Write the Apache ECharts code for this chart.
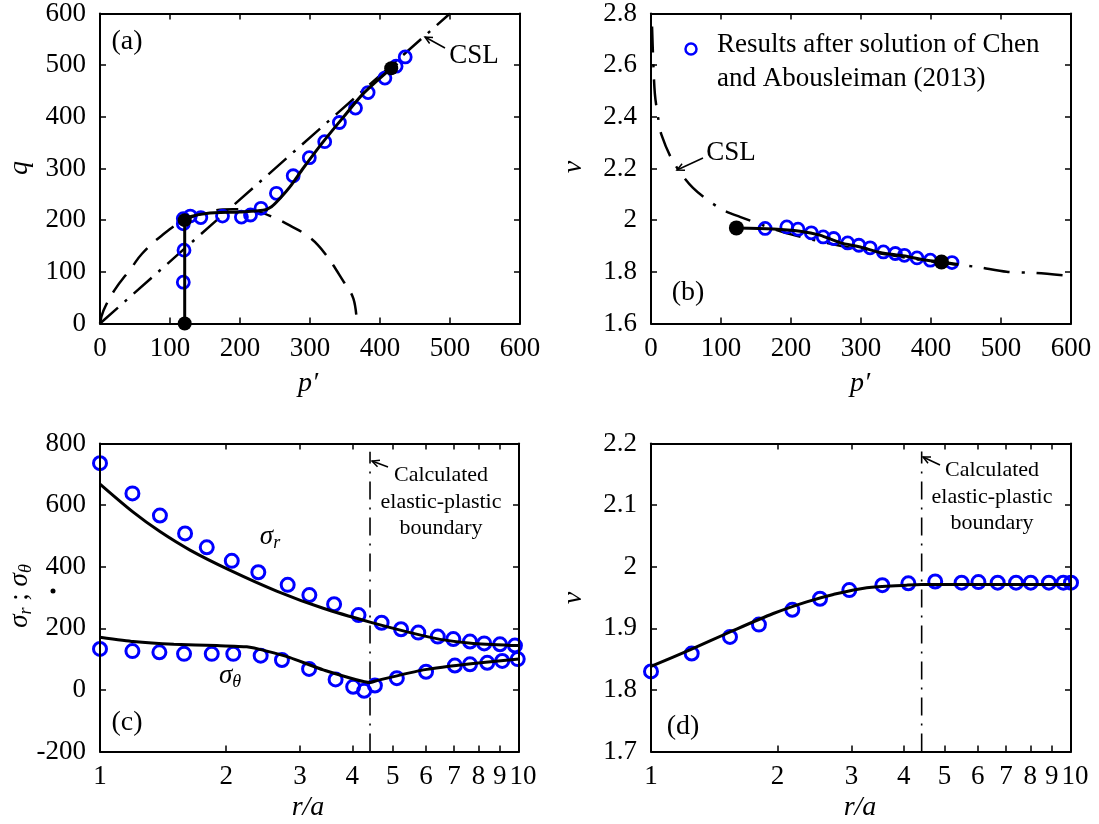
<!DOCTYPE html>
<html><head><meta charset="utf-8">
<script src="https://cdn.jsdelivr.net/npm/echarts@6/dist/echarts.min.js"></script>
<style>html,body{margin:0;padding:0;background:#fff}#c{width:1099px;height:824px}</style>
</head><body><div id="c"></div>
<script>
// ---------- Panel (a): q vs p'
const aCircP = [119,120,119,119,129,144,175,202,215,230,252,276,299,321,342,365,383,407,423,436];
const aCircQ = [80,142,193,203,208,205,208,206,210,223,252,286,321,352,389,417,447,475,498,516];
const aStemP = [121,121];
const aStemQ = [0,200];
const aModelP = [121,130,152,200,233,245,257,271,290,319,348,376,416,425];
const aModelQ = [200,207,213,216,219,226,242,264,300,352,400,445,494,503];
const aDotP = [121,121,416];
const aDotQ = [0,200,494];
const aCslP = [0,500];
const aCslQ = [0,600];
const aYieldP = [0,5,21,45,60,88,121,162,190,224,252,271,300,321,348,362,367];
const aYieldQ = [0,25,65,108,135,170,200,218,221,217,203,190,166,136,81,48,0];

// ---------- Panel (b): v vs p'
const bCircP = [163,194,210,229,246,261,281,297,313,332,349,362,380,399,430];
const bCircV = [1.968,1.974,1.965,1.951,1.935,1.929,1.912,1.903,1.893,1.877,1.871,1.864,1.854,1.845,1.836];
const bModelP = [122,175,213,241,270,299,327,360,394,415,439];
const bModelV = [1.970,1.966,1.957,1.942,1.913,1.896,1.875,1.862,1.845,1.838,1.828];
const bDotP = [122,415];
const bDotV = [1.970,1.838];
const bCslP = [1.5,3,5.5,10,15,32,60,99,127,200,300,400,465,508,549,600];
const bCslV = [2.75,2.63,2.49,2.40,2.33,2.225,2.125,2.045,2.013,1.945,1.885,1.84,1.819,1.80,1.796,1.784];

// ---------- Panel (c): stresses vs r/a
const cSrR = [1,1.195,1.39,1.596,1.798,2.063,2.387,2.805,3.16,3.62,4.14,4.70,5.23,5.75,6.40,6.97,7.64,8.26,9.01,9.78];
const cSr  = [736,638,566,508,463,419,382,341,308,278,243,218,197,186,173,165,157,151,148,144];
const cStR = [1,1.195,1.386,1.587,1.848,2.08,2.418,2.718,3.155,3.65,4.02,4.27,4.53,5.11,6.0,7.03,7.64,8.4,9.12,9.93];
const cSt  = [133,126,122,117,117,117,111,97,68,34,10,-3,14,38,59,79,83,88,94,100];
const cModelSrR = [1,1.2,1.39,1.64,2.04,2.64,3.41,4.41,5.5,6.48,7.78,10];
const cModelSr  = [668,577,514,454,389,321,265,220,186,164,151,144];
const cModelStR = [1,1.2,1.5,1.9,2.24,2.5,2.84,3.41,4.41,4.6,5.91,7.78,10];
const cModelSt  = [171,157,148,144,140,126,105,65,24,31,65,86,100];
const cBoundS = [-200,773];

// ---------- Panel (d): v vs r/a
const dCircR = [1,1.25,1.542,1.807,2.17,2.526,2.966,3.555,4.10,4.75,5.49,6.02,6.69,7.40,8.02,8.86,9.59,10];
const dCircV = [1.830,1.859,1.886,1.906,1.930,1.948,1.962,1.970,1.973,1.976,1.974,1.975,1.974,1.974,1.974,1.974,1.974,1.974];
const dModelR = [1,1.238,1.542,1.955,2.348,2.718,3.263,4.06,4.41,10];
const dModelV = [1.838,1.865,1.894,1.924,1.943,1.955,1.966,1.970,1.971,1.971];
const dBoundV = [1.7,2.187];

const boundaryR = 4.41;
const logTicks = [1,2,3,4,5,6,7,8,9,10];
const logLabelsMain = [1,2,3,4,5,6,7,8,9];
const logLabelsEnd = [10];

// ---------- build
const FONT = '"Liberation Serif", "Times New Roman", serif';
const FS = 27;
const BLUE = '#0000ff';
const pairs = (xs, ys) => xs.map((x, i) => [x, ys[i]]);

const grids = [
  {left:100, top:13.5, width:420, height:310},
  {left:651, top:13.5, width:420, height:310},
  {left:100, top:443.5, width:419, height:308},
  {left:651, top:443.5, width:420, height:308}
];

const fmtNum = v => String(+(+v).toFixed(2));

function mkAxis(gi, pos, cfg, showLabel) {
  const ax = Object.assign({
    gridIndex: gi, position: pos,
    axisLine: {show: true, onZero: false, lineStyle: {color: '#000', width: 2}},
    axisTick: {show: true, inside: true, length: 6, lineStyle: {color: '#000', width: 1.5}},
    axisLabel: {show: showLabel, color: '#000', fontFamily: FONT, fontSize: FS,
                margin: (pos === 'bottom' ? 12 : 14), formatter: fmtNum,
                hideOverlap: false},
    splitLine: {show: false}, minorTick: {show: false}, z: 10
  }, cfg);
  if (cfg.type === 'log') {
    ax.axisLabel.customValues = logLabelsMain;
    ax.axisLabel.formatter = v => String(Math.round(v));
    ax.axisTick.customValues = logTicks;
  }
  return ax;
}
// extra label-only axis carrying the "10" at the right end of a log axis
function endLabelAxis(gi) {
  return {
    gridIndex: gi, position: 'bottom', type: 'log', logBase: 10, min: 1, max: 10,
    axisLine: {show: false}, axisTick: {show: false}, splitLine: {show: false},
    axisLabel: {show: true, customValues: logLabelsEnd, margin: 12, hideOverlap: false,
      formatter: v => '{t|' + Math.round(v) + '}',
      rich: {t: {color: '#000', fontFamily: FONT, fontSize: FS, padding: [0, 0, 0, 8]}}},
    z: 10
  };
}

const xCfg = [
  {type:'value', min:0, max:600, interval:100},
  {type:'value', min:0, max:600, interval:100},
  {type:'log', logBase:10, min:1, max:10},
  {type:'log', logBase:10, min:1, max:10}
];
const yCfg = [
  {type:'value', min:0, max:600, interval:100},
  {type:'value', min:1.6, max:2.8, interval:0.2},
  {type:'value', min:-200, max:800, interval:200},
  {type:'value', min:1.7, max:2.2, interval:0.1}
];

const xAxes = [], yAxes = [];
for (let g = 0; g < 4; g++) {
  xAxes.push(mkAxis(g, 'bottom', Object.assign({}, xCfg[g]), true));
  xAxes.push(mkAxis(g, 'top', Object.assign({}, xCfg[g]), false));
  yAxes.push(mkAxis(g, 'left', Object.assign({}, yCfg[g]), true));
  yAxes.push(mkAxis(g, 'right', Object.assign({}, yCfg[g]), false));
}
xAxes.push(endLabelAxis(2));
xAxes.push(endLabelAxis(3));

function circles(g, data, size, bw) {
  return {type:'scatter', xAxisIndex:2*g, yAxisIndex:2*g, data, symbol:'circle', symbolSize:size,
          itemStyle:{color:'rgba(0,0,0,0)', borderColor:BLUE, borderWidth:bw, opacity:1}, clip:false, z:3, silent:true};
}
function line(g, data, style, extra) {
  return Object.assign({type:'line', xAxisIndex:2*g, yAxisIndex:2*g, data, showSymbol:false, symbol:'none',
          lineStyle:Object.assign({color:'#000', width:3, opacity:1}, style), z:4, silent:true, animation:false}, extra || {});
}
function dots(g, data, size) {
  return {type:'scatter', xAxisIndex:2*g, yAxisIndex:2*g, data, symbol:'circle', symbolSize:size,
          itemStyle:{color:'#000', opacity:1}, clip:false, z:5, silent:true};
}

const series = [
  // (a)
  line(0, pairs(aYieldP, aYieldQ), {width:2.5, type:[22,12]}, {smooth:0.4, z:2}),
  line(0, pairs(aCslP, aCslQ), {width:2.5, type:[24,9,3,9]}, {z:2}),
  circles(0, pairs(aCircP, aCircQ), 12, 2.8),
  line(0, pairs(aStemP, aStemQ), {width:3}),
  line(0, pairs(aModelP, aModelQ), {width:3}, {smooth:0.25}),
  dots(0, pairs(aDotP, aDotQ), 14),
  // (b)
  line(1, pairs(bCslP, bCslV), {width:2.5, type:[26,12,3,12]}, {smooth:0.3, z:2}),
  circles(1, pairs(bCircP, bCircV), 12, 2.8),
  line(1, pairs(bModelP, bModelV), {width:3}, {smooth:0.3}),
  dots(1, pairs(bDotP, bDotV), 15),
  // (c)
  circles(2, pairs(cSrR, cSr), 13, 3),
  circles(2, pairs(cStR, cSt), 13, 3),
  line(2, pairs(cModelSrR, cModelSr), {width:3}, {smooth:0.3}),
  line(2, pairs(cModelStR, cModelSt), {width:3}, {smooth:0.15}),
  line(2, [[boundaryR, cBoundS[0]], [boundaryR, cBoundS[1]]], {width:1.6, type:[18,8,2,8]}, {z:2}),
  // (d)
  circles(3, pairs(dCircR, dCircV), 13, 3),
  line(3, pairs(dModelR, dModelV), {width:3}, {smooth:0.3}),
  line(3, [[boundaryR, dBoundV[0]], [boundaryR, dBoundV[1]]], {width:1.6, type:[18,8,2,8]}, {z:2})
];

// ---------- annotations
function txt(x, y, text, size, opts) {
  return Object.assign({type:'text', x, y, z:20, silent:true,
    style:Object.assign({text, font: (opts && opts.italic ? 'italic ' : '') + size + 'px ' + FONT,
      fill:'#000', align:'center', verticalAlign:'middle'}, opts && opts.style)}, opts && opts.el);
}
function arrow(tx, ty, hx, hy) {
  const a = Math.atan2(hy - ty, hx - tx), L = 8, w = 0.45;
  const p1 = [hx - L*Math.cos(a - w), hy - L*Math.sin(a - w)];
  const p2 = [hx - L*Math.cos(a + w), hy - L*Math.sin(a + w)];
  return [
    {type:'line', z:20, silent:true, shape:{x1:tx, y1:ty, x2:hx, y2:hy}, style:{stroke:'#000', lineWidth:1.5}},
    {type:'polyline', z:20, silent:true, shape:{points:[p1, [hx, hy], p2]}, style:{stroke:'#000', lineWidth:1.5, fill:null}}
  ];
}
const sub = {
  s: {font: 'italic 27px ' + FONT, lineHeight: 30, verticalAlign: 'middle'},
  n: {font: '27px ' + FONT, lineHeight: 30, verticalAlign: 'middle'},
  b: {font: 'italic 18px ' + FONT, lineHeight: 18, verticalAlign: 'bottom'}
};

const graphic = [
  // panel labels
  txt(127, 42, '(a)', 28), txt(688, 293, '(b)', 28), txt(127, 723, '(c)', 28), txt(683, 727, '(d)', 28),
  // axis titles
  txt(20, 168, 'q', 28, {italic:true, el:{rotation:Math.PI/2}}),
  txt(574, 167, 'v', 28, {italic:true, el:{rotation:Math.PI/2}}),
  txt(574, 598, 'v', 28, {italic:true, el:{rotation:Math.PI/2}}),
  txt(308, 384, 'p\u2032', 28, {italic:true}),
  txt(860, 384, 'p\u2032', 28, {italic:true}),
  txt(308, 808, 'r/a', 28, {italic:true}),
  txt(860, 808, 'r/a', 28, {italic:true}),
  {type:'text', x:20, y:596, rotation:Math.PI/2, z:20, silent:true,
   style:{text:'{s|σ}{b|r}{n| ; }{s|σ}{b|θ}', rich:sub, align:'center', verticalAlign:'middle', fill:'#000'}},
  {type:'circle', z:20, silent:true, shape:{cx:53, cy:591, r:2.5}, style:{fill:'#000'}},
  // sigma labels in (c)
  {type:'text', x:270, y:537, z:20, silent:true,
   style:{text:'{s|σ}{b|r}', rich:sub, align:'center', verticalAlign:'middle', fill:'#000'}},
  {type:'text', x:230, y:676, z:20, silent:true,
   style:{text:'{s|σ}{b|θ}', rich:sub, align:'center', verticalAlign:'middle', fill:'#000'}},
  // CSL labels
  txt(474, 56, 'CSL', 27), ...arrow(445, 48, 425, 37),
  txt(731, 153, 'CSL', 27), ...arrow(703, 158, 677, 170),
  // boundary notes
  txt(441, 475, 'Calculated', 22), txt(441, 502, 'elastic-plastic', 22), txt(441, 528, 'boundary', 22),
  ...arrow(388, 467, 372, 461),
  txt(992, 470, 'Calculated', 22), txt(992, 497, 'elastic-plastic', 22), txt(992, 523, 'boundary', 22),
  ...arrow(940, 465, 923, 457),
  // legend in (b)
  {type:'circle', z:20, silent:true, shape:{cx:691, cy:49, r:5.5}, style:{fill:null, stroke:BLUE, lineWidth:2.5}},
  txt(717, 45, 'Results after solution of Chen', 27, {style:{align:'left'}}),
  txt(717, 79, 'and Abousleiman (2013)', 27, {style:{align:'left'}})
];

const chart = echarts.init(document.getElementById('c'));
chart.setOption({
  animation: false,
  backgroundColor: '#fff',
  grid: grids,
  xAxis: xAxes,
  yAxis: yAxes,
  series,
  graphic
});
</script></body></html>
